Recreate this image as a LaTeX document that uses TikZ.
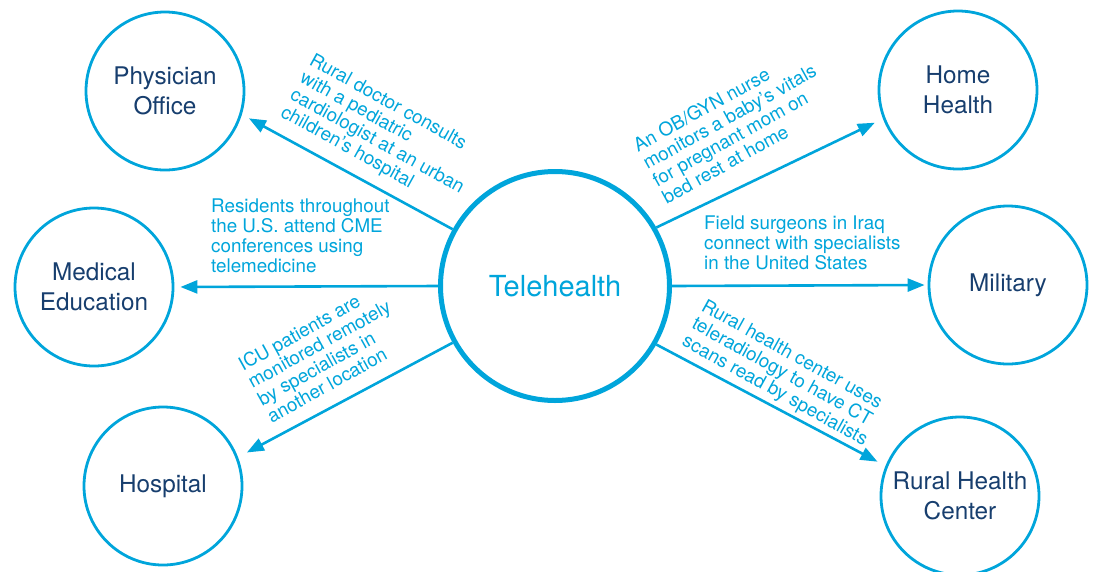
\documentclass[tikz,border=0pt]{standalone}
\usepackage{fontspec}
\setmainfont{TeX Gyre Heros}
\usetikzlibrary{arrows.meta}
\definecolor{thcyan}{RGB}{0,165,219}
\definecolor{thnavy}{RGB}{23,62,110}
\begin{document}
\begin{tikzpicture}[x=1pt,y=-1pt,
  hub/.style={circle, draw=thcyan, line width=5pt, minimum size=229pt, inner sep=0pt,
    text=thcyan, font=\fontsize{29}{30}\selectfont},
  site/.style={circle, draw=thcyan, line width=2.8pt, minimum size=158pt, inner sep=0pt,
    text=thnavy, align=center, font=\fontsize{24.3}{30}\selectfont},
  link/.style={draw=thcyan, line width=2.6pt, -{Triangle[length=17pt,width=13pt]}},
  note/.style={text=thcyan, align=left, inner sep=0pt, anchor=north west,
    font=\fontsize{18.8}{19.8}\selectfont}]
\useasboundingbox (0,0) rectangle (1095,571);

% hub and the six settings around it
\node[hub]  (tele)  at (555,286) {Telehealth};
\node[site] (phys)  at (165,91)  {Physician\\Office};
\node[site] (medu)  at (94,287)  {Medical\\Education};
\node[site] (hosp)  at (163,486) {Hospital};
\node[site] (home)  at (958,90)  {Home\\Health};
\node[site] (mil)   at (1008,285) {Military};
\node[site] (rural) at (960,496) {Rural Health\\Center};

% connectors from the hub
\draw[link, shorten >=8pt]  (tele.151) -- (phys.-17);
\draw[link, shorten >=6pt]  (tele.180) -- (medu.0);
\draw[link, shorten >=10pt] (tele.209) -- (hosp.21);
\draw[link, shorten >=9pt]  (tele.30)  -- (home.201);
\draw[link, shorten >=3pt]  (tele.0)   -- (mil.180);
\draw[link, shorten >=9pt]  (tele.-30) -- (rural.158);

% example texts along the connectors
\node[note, rotate=-29] (n1) at (315,52)
  {Rural doctor consults\\with a pediatric\\cardiologist at an urban\\children's hospital};
\node[note] (n2) at (211,199)
  {Residents throughout\\the U.S. attend CME\\conferences using\\telemedicine};
\node[note, rotate=29] (n3) at (236,359)
  {ICU patients are\\monitored remotely\\by specialists in\\another location};
\node[note, rotate=29] (n4) at (631,140)
  {An OB/GYN nurse\\monitors a baby's vitals\\for pregnant mom on\\bed rest at home};
\node[note] (n5) at (704,216)
  {Field surgeons in Iraq\\connect with specialists\\in the United States};
\node[note, rotate=-29] (n6) at (707,298)
  {Rural health center uses\\teleradiology to have CT\\scans read by specialists};
\end{tikzpicture}
\end{document}
